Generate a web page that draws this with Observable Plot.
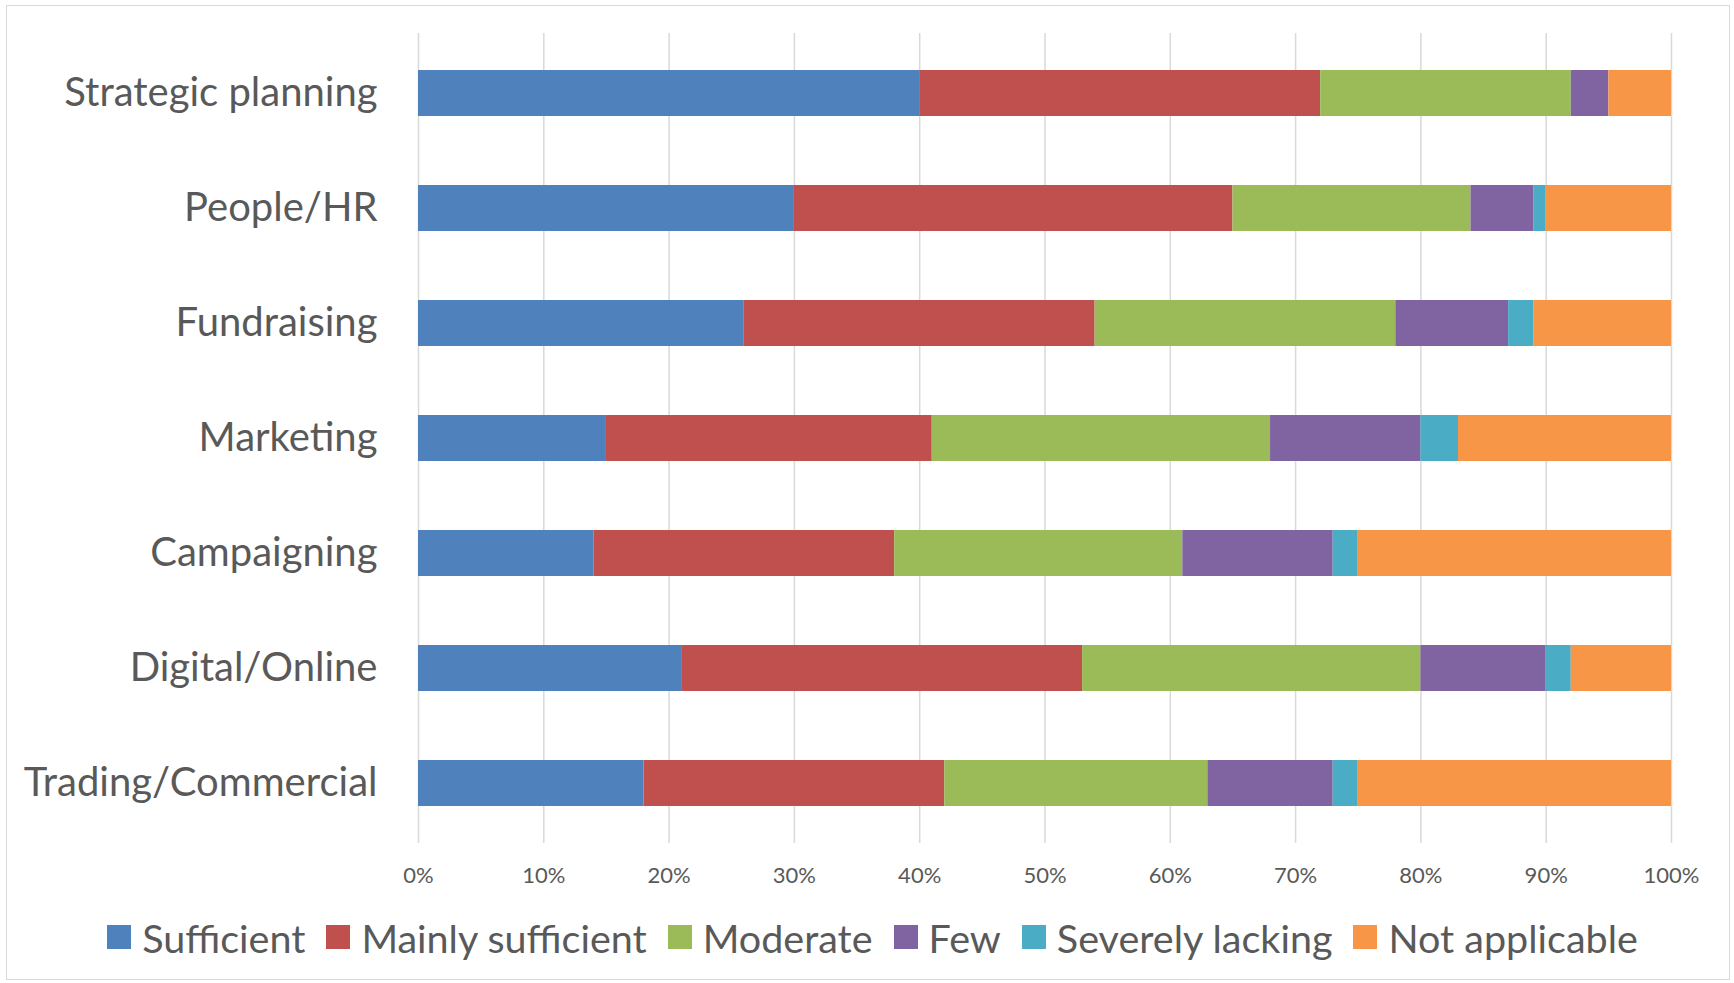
<!DOCTYPE html>
<html>
<head>
<meta charset="utf-8">
<script src="https://cdn.jsdelivr.net/npm/d3@7"></script>
<script src="https://cdn.jsdelivr.net/npm/@observablehq/plot@0.6"></script>
<style>
  html, body { margin: 0; padding: 0; background: #fff; }
  #wrap { position: relative; width: 1734px; height: 983px; overflow: hidden; font-family: Lato, sans-serif; }
  #frame { position: absolute; left: 6px; top: 5px; width: 1724px; height: 975px; border: 1px solid #d9d9d9; box-sizing: border-box; }
  #chart { position: absolute; left: 0; top: 0; }
  #legend { position: absolute; left: 0; width: 1745px; top: 915px; height: 44px; display: flex; justify-content: center; align-items: center; gap: 21px; font-size: 39.5px; color: #595959; }
  .item { display: flex; align-items: center; gap: 11px; white-space: nowrap; }
  .sw { width: 24px; height: 24px; display: inline-block; }
</style>
</head>
<body>
<div id="wrap">
  <div id="frame"></div>
  <div id="chart"></div>
  <div id="legend"></div>
</div>
<script>
const categories = ["Strategic planning", "People/HR", "Fundraising", "Marketing", "Campaigning", "Digital/Online", "Trading/Commercial"];
const seriesNames = ["Sufficient", "Mainly sufficient", "Moderate", "Few", "Severely lacking", "Not applicable"];
const seriesColors = ["#4f81bd", "#c0504d", "#9bbb59", "#8064a2", "#4bacc6", "#f79646"];
const sufficient       = [40, 30, 26, 15, 14, 21, 18];
const mainlySufficient = [32, 35, 28, 26, 24, 32, 24];
const moderate         = [20, 19, 24, 27, 23, 27, 21];
const few              = [3, 5, 9, 12, 12, 10, 10];
const severelyLacking  = [0, 1, 2, 3, 2, 2, 2];
const notApplicable    = [5, 10, 11, 17, 25, 8, 25];
const xTicks = [0, 10, 20, 30, 40, 50, 60, 70, 80, 90, 100];

const seriesValues = [sufficient, mainlySufficient, moderate, few, severelyLacking, notApplicable];
const rows = [];
seriesNames.forEach((s, si) => {
  categories.forEach((c, ci) => rows.push({category: c, series: s, order: si, value: seriesValues[si][ci]}));
});

const W = 1734, H = 900;
const chart = Plot.plot({
  width: W,
  height: H,
  marginLeft: 418,
  marginRight: 63,
  marginTop: 33,
  marginBottom: 57,
  style: {fontFamily: "Lato, sans-serif", color: "#595959", background: "transparent"},
  x: {domain: [0, 100]},
  y: {domain: categories, paddingInner: 0.6, paddingOuter: 0.3},
  color: {domain: seriesNames, range: seriesColors},
  marks: [
    Plot.gridX(xTicks, {stroke: "#d9d9d9", strokeOpacity: 1, strokeWidth: 1.5}),
    Plot.barX(rows, Plot.stackX({x: "value", y: "category", fill: "series", order: seriesNames})),
    Plot.axisX({ticks: xTicks, tickFormat: d => d + "%", tickSize: 0, tickPadding: 24, fontSize: 22, label: null}),
    Plot.axisY({tickSize: 0, tickPadding: 41, fontSize: 40, label: null})
  ]
});
document.getElementById("chart").appendChild(chart);

const legend = document.getElementById("legend");
seriesNames.forEach((s, i) => {
  const it = document.createElement("div");
  it.className = "item";
  const sw = document.createElement("span");
  sw.className = "sw";
  sw.style.background = seriesColors[i];
  const t = document.createElement("span");
  t.textContent = s;
  it.appendChild(sw);
  it.appendChild(t);
  legend.appendChild(it);
});
</script>
</body>
</html>
